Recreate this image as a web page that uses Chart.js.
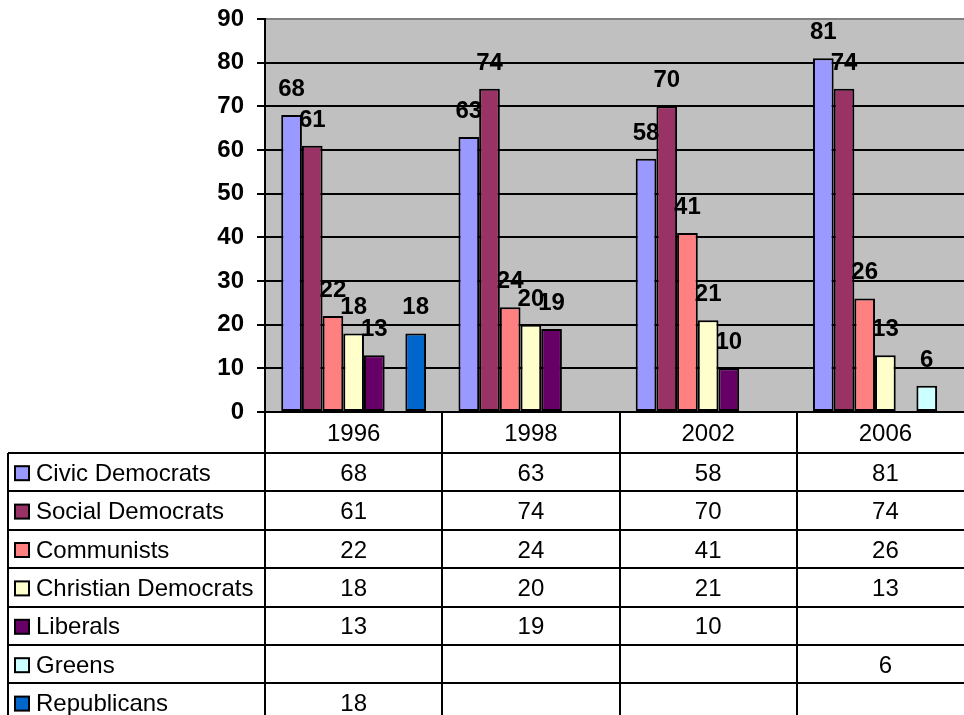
<!DOCTYPE html>
<html>
<head>
<meta charset="utf-8">
<script src="https://cdn.jsdelivr.net/npm/chart.js@4"></script>
<style>
    html, body { margin: 0; padding: 0; background: #fff; overflow: hidden; }
    #wrap { width: 964px; height: 715px; overflow: hidden; }
</style>
</head>
<body>
<div id="wrap"><canvas id="electionChart" width="976" height="715"></canvas></div>
<script>
// --- Data ---
const years = ['1996', '1998', '2002', '2006'];
const parties = ['Civic Democrats', 'Social Democrats', 'Communists', 'Christian Democrats', 'Liberals', 'Greens', 'Republicans'];
const civicDemocrats = [68, 63, 58, 81];
const socialDemocrats = [61, 74, 70, 74];
const communists = [22, 24, 41, 26];
const christianDemocrats = [18, 20, 21, 13];
const liberals = [13, 19, 10, null];
const greens = [null, null, null, 6];
const republicans = [18, null, null, null];
const yTicks = [0, 10, 20, 30, 40, 50, 60, 70, 80, 90];

const seriesValues = [civicDemocrats, socialDemocrats, communists, christianDemocrats, liberals, greens, republicans];
const partyColors = ['#9999ff', '#993366', '#ff8080', '#ffffcc', '#660066', '#ccffff', '#0066cc'];

const FONT = "'Liberation Sans', Arial, sans-serif";

// grey plot background
const plotBackground = {
    id: 'plotBackground',
    beforeDraw(chart) {
        const a = chart.chartArea;
        const ctx = chart.ctx;
        ctx.save();
        ctx.fillStyle = '#c0c0c0';
        ctx.fillRect(a.left, a.top, a.right - a.left, a.bottom - a.top);
        ctx.restore();
    }
};

// value labels above bars
const barLabels = {
    id: 'barLabels',
    afterDatasetsDraw(chart) {
        const ctx = chart.ctx;
        ctx.save();
        ctx.font = 'bold 24px ' + FONT;
        ctx.fillStyle = '#000';
        ctx.textAlign = 'center';
        ctx.textBaseline = 'alphabetic';
        chart.data.datasets.forEach((ds, i) => {
            const meta = chart.getDatasetMeta(i);
            meta.data.forEach((bar, j) => {
                const v = ds.data[j];
                if (v === null || v === undefined) return;
                ctx.fillText(String(v), bar.x, bar.y - 19);
            });
        });
        ctx.restore();
    }
};

// data table under the plot
const dataTable = {
    id: 'dataTable',
    afterDraw(chart) {
        const ctx = chart.ctx;
        const a = chart.chartArea;
        const xScale = chart.scales.x;
        const colW = (a.right - a.left) / years.length;
        const headerBottom = a.bottom + 41;
        const rowH = 38.4;
        const tableLeft = 8;
        const tableBottom = headerBottom + rowH * parties.length;

        ctx.save();
        ctx.strokeStyle = '#000';
        ctx.lineWidth = 2;

        // horizontal lines
        ctx.beginPath();
        for (let r = 0; r <= parties.length; r++) {
            const y = Math.round(headerBottom + r * rowH);
            ctx.moveTo(tableLeft, y);
            ctx.lineTo(a.right, y);
        }
        // vertical lines
        ctx.moveTo(tableLeft, headerBottom);
        ctx.lineTo(tableLeft, tableBottom);
        for (let c = 0; c <= years.length; c++) {
            const x = Math.round(a.left + c * colW);
            ctx.moveTo(x, a.bottom);
            ctx.lineTo(x, tableBottom);
        }
        ctx.stroke();

        ctx.fillStyle = '#000';
        ctx.font = '24px ' + FONT;
        ctx.textAlign = 'center';
        ctx.textBaseline = 'middle';
        years.forEach((y, i) => {
            ctx.fillText(y, xScale.getPixelForValue(i), (a.bottom + headerBottom) / 2 + 2);
        });

        parties.forEach((p, r) => {
            const cy = headerBottom + r * rowH + rowH / 2 + 1;
            // legend key
            ctx.fillStyle = partyColors[r];
            ctx.fillRect(15, cy - 7, 14, 14);
            ctx.lineWidth = 2;
            ctx.strokeRect(15, cy - 7, 14, 14);
            ctx.fillStyle = '#000';
            ctx.textAlign = 'left';
            ctx.fillText(p, 36, cy + 1);
            ctx.textAlign = 'center';
            seriesValues[r].forEach((v, i) => {
                if (v === null) return;
                ctx.fillText(String(v), xScale.getPixelForValue(i), cy + 1);
            });
        });
        ctx.restore();
    }
};

const ctx = document.getElementById('electionChart').getContext('2d');

new Chart(ctx, {
    type: 'bar',
    data: {
        labels: years,
        datasets: parties.map((name, i) => ({
            label: name,
            data: seriesValues[i],
            backgroundColor: partyColors[i],
            borderColor: '#000',
            borderWidth: 2,
            borderSkipped: false,
            categoryPercentage: 0.817,
            barPercentage: 1.0
        }))
    },
    options: {
        responsive: false,
        animation: false,
        layout: {
            padding: { top: 19, bottom: 303, left: 0, right: 2 }
        },
        scales: {
            x: {
                display: false
            },
            y: {
                min: 0,
                max: 90,
                afterBuildTicks: axis => {
                    axis.ticks = yTicks.map(v => ({ value: v }));
                },
                afterFit: axis => {
                    axis.width = 265;
                    // let the layout padding alone decide top/bottom of the plot
                    axis.paddingTop = 0;
                    axis.paddingBottom = 0;
                },
                border: {
                    display: true,
                    color: '#000',
                    width: 2
                },
                grid: {
                    color: c => (c.tick && c.tick.value === 90) ? '#808080' : '#000',
                    lineWidth: 2,
                    tickLength: 8,
                    tickColor: '#000'
                },
                ticks: {
                    padding: 13,
                    color: '#000',
                    font: {
                        family: FONT,
                        size: 24,
                        weight: 'bold'
                    }
                }
            }
        },
        plugins: {
            legend: { display: false },
            tooltip: { enabled: false }
        }
    },
    plugins: [plotBackground, barLabels, dataTable]
});
</script>
</body>
</html>
